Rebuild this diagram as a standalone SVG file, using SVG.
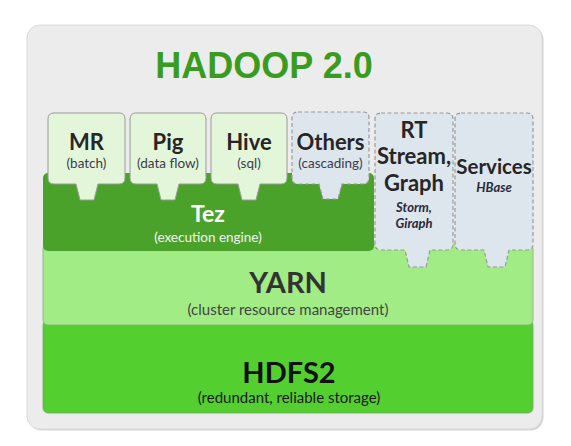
<svg xmlns="http://www.w3.org/2000/svg" width="571" height="446" viewBox="0 0 571 446">
<style>
.t{font-family:Lato,"Liberation Sans",sans-serif;text-anchor:middle}
.b{font-weight:bold}
.h{font-size:22px;fill:#262626;font-weight:bold}
.s{font-size:13.5px;fill:#3c3c4c}
.i{font-size:13px;fill:#2a2a3a;font-style:italic;font-weight:bold}
.app{fill:#e3f6da;stroke:#9a9a9a;stroke-width:1}
.oth{fill:#dde5ed;stroke:#9a9a9a;stroke-width:1.2;stroke-dasharray:4 2.5}
</style>
<rect width="571" height="446" fill="#ffffff"/>
<g id="panel">
<rect x="28.5" y="26.5" width="515" height="404" rx="13" fill="#d6d6d6"/>
<rect x="27" y="25" width="515" height="404" rx="13" fill="#ececec" stroke="#dadada" stroke-width="1"/>
<text class="t b" x="264" y="78" style="font-family:'Liberation Sans',Arial,sans-serif;font-size:36px;fill:#3a9c1f">HADOOP 2.0</text>
</g>
<g id="hdfs2">
<rect x="43" y="320" width="490" height="93" rx="5" fill="#54cf30" stroke="#7aa070" stroke-width="0.8"/>
<text class="t b" x="289" y="383" style="font-size:29px;fill:#111">HDFS2</text>
<text class="t" x="289" y="403" style="font-size:15px;fill:#1a1a1a">(redundant, reliable storage)</text>
</g>
<g id="yarn">
<rect x="43" y="244" width="490" height="81" rx="5" fill="#a1ec85" stroke="#8aa88a" stroke-width="0.8"/>
<text class="t b" x="288" y="293" style="font-size:29px;fill:#333">YARN</text>
<text class="t" x="288" y="315" style="font-size:15px;fill:#444">(cluster resource management)</text>
</g>
<g id="tez">
<rect x="43" y="173" width="331" height="78" rx="5" fill="#4ba22b"/>
<text class="t b" x="208" y="222" style="font-size:23px;fill:#ffffff">Tez</text>
<text class="t" x="208" y="242" style="font-size:13.5px;fill:#f4f4f4">(execution engine)</text>
</g>
<g id="mr">
<path class="app" d="M54,113 H119 Q125,113 125,119 V178 Q125,184 119,184 H98 L94,200 H80 L76,184 H54 Q48,184 48,178 V119 Q48,113 54,113 Z"/>
<text class="t h" x="86.5" y="150">MR</text>
<text class="t s" x="86.5" y="168">(batch)</text>
</g>
<g id="pig">
<path class="app" d="M136,113 H200 Q206,113 206,119 V178 Q206,184 200,184 H179 L175,200 H161 L157,184 H136 Q130,184 130,178 V119 Q130,113 136,113 Z"/>
<text class="t h" x="168" y="150">Pig</text>
<text class="t s" x="168" y="168">(data flow)</text>
</g>
<g id="hive">
<path class="app" d="M217,113 H281 Q287,113 287,119 V178 Q287,184 281,184 H260 L256,200 H242 L238,184 H217 Q211,184 211,178 V119 Q211,113 217,113 Z"/>
<text class="t h" x="249" y="150">Hive</text>
<text class="t s" x="249" y="168">(sql)</text>
</g>
<g id="others">
<path class="oth" d="M298,112 H363 Q369,112 369,118 V178 Q369,184 363,184 H342 L338,199 H323 L319,184 H298 Q292,184 292,178 V118 Q292,112 298,112 Z"/>
<text class="t h" x="330.5" y="150">Others</text>
<text class="t s" x="330.5" y="168">(cascading)</text>
</g>
<g id="rt">
<path class="oth" d="M381,113 H447 Q453,113 453,119 V244 Q453,250 447,250 H430 L426,267 H409 L405,250 H381 Q375,250 375,244 V119 Q375,113 381,113 Z"/>
<text class="t h" x="414" y="138">RT</text>
<text class="t h" x="414" y="164">Stream,</text>
<text class="t h" x="414" y="191">Graph</text>
<text class="t i" x="414" y="212">Storm,</text>
<text class="t i" x="414" y="228">Giraph</text>
</g>
<g id="services">
<path class="oth" d="M461,113 H527 Q533,113 533,119 V244 Q533,250 527,250 H509 L505,267 H488 L484,250 H461 Q455,250 455,244 V119 Q455,113 461,113 Z"/>
<text class="t h" x="494" y="174" style="font-size:20.5px">Services</text>
<text class="t i" x="494" y="192">HBase</text>
</g>
<g id="connectors"></g>
</svg>
